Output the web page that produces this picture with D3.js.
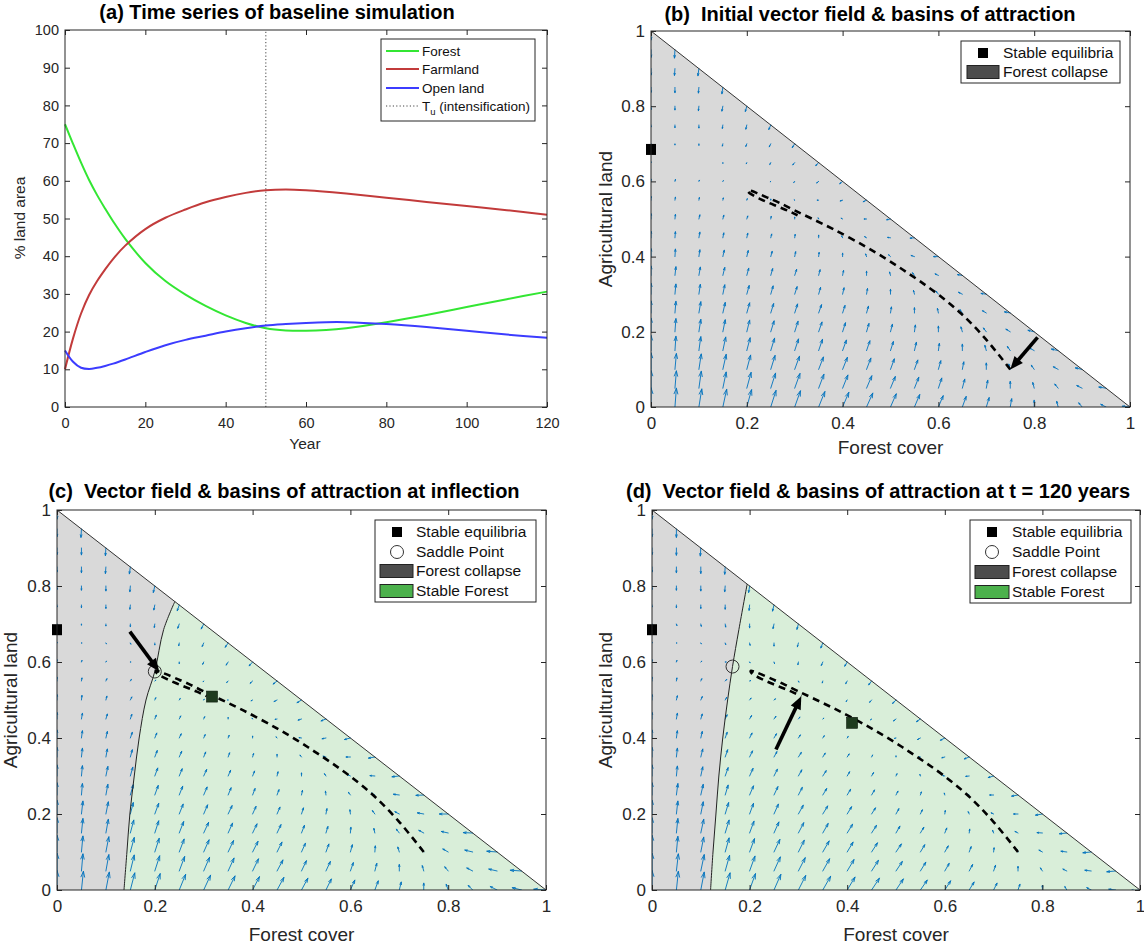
<!DOCTYPE html>
<html>
<head>
<meta charset="utf-8">
<script src="https://cdn.jsdelivr.net/npm/d3@7/dist/d3.min.js"></script>
<style>
  html, body { margin: 0; padding: 0; background: #fff; }
  svg text { font-family: "Liberation Sans", Arial, Helvetica, sans-serif; white-space: pre; }
</style>
</head>
<body>
<svg id="fig" width="1144" height="950"></svg>
<script>
// ---------- Panel (a): baseline simulation, % of land area ----------
const years    = [0, 2, 4, 6, 8, 10, 12, 15, 20, 25, 30, 35, 40, 45, 50, 55, 60, 65, 70, 80, 90, 100, 110, 120];
const forest   = [75, 69.8, 64.8, 60.2, 56.2, 52.6, 49.2, 44.6, 38.2, 33.4, 29.8, 26.8, 24.3, 22.3, 20.9, 20.3, 20.2, 20.4, 20.9, 22.5, 24.4, 26.5, 28.6, 30.6];
const farmland = [10, 18.2, 24.8, 29.7, 33.4, 36.5, 39.3, 42.8, 47.2, 50.2, 52.4, 54.3, 55.7, 56.8, 57.5, 57.7, 57.5, 57.1, 56.6, 55.5, 54.4, 53.3, 52.2, 51.0];
const openLand = [15, 12.0, 10.4, 10.1, 10.4, 10.9, 11.5, 12.6, 14.6, 16.4, 17.8, 18.9, 20.0, 20.9, 21.6, 22.0, 22.3, 22.5, 22.5, 22.0, 21.2, 20.2, 19.2, 18.4];
const intensificationYear = 50;

const yearTicks  = [0, 20, 40, 60, 80, 100, 120];
const shareTicks = [0, 10, 20, 30, 40, 50, 60, 70, 80, 90, 100];
const coverTicks = [0, 0.2, 0.4, 0.6, 0.8, 1];

// ---------- Phase planes: vector fields on a 0.05 grid ----------
// Row j holds y = 0.05*j, entry i holds x = 0.05*i (only x + y <= 1); values are thousandths.
const gridStep = 0.05;

const fieldInitialU = [
  [0,3,6,8,10,11,12,13,13,13,12,11,10,8,6,3,0,-3,-7,-11,-16],
  [0,3,5,7,9,10,11,11,11,11,10,9,7,5,3,0,-3,-7,-11,-15],
  [0,3,5,7,8,9,10,10,10,9,8,7,5,3,0,-3,-6,-10,-14],
  [0,2,4,6,7,8,8,8,8,7,6,4,2,0,-3,-6,-10,-14],
  [0,2,4,5,6,7,7,7,6,5,4,2,0,-3,-6,-9,-13],
  [0,2,4,5,6,6,6,6,5,4,2,0,-2,-5,-8,-12],
  [0,2,3,4,5,5,5,4,3,2,0,-2,-5,-8,-11],
  [0,2,3,4,4,4,4,3,2,0,-2,-4,-7,-10],
  [0,1,2,3,3,3,2,1,0,-2,-4,-7,-10],
  [0,1,2,2,2,2,1,0,-2,-4,-6,-9],
  [0,1,2,2,2,1,0,-1,-3,-5,-8],
  [0,1,1,1,1,0,-1,-3,-5,-7],
  [0,1,1,1,0,-1,-2,-4,-6],
  [0,0,0,0,-1,-2,-4,-6],
  [0,0,0,-1,-2,-3,-5],
  [0,0,0,-1,-2,-4],
  [0,0,-1,-2,-3],
  [0,0,-1,-2],
  [0,-1,-2],
  [0,-1],
  [0]
];
const fieldInitialV = [
  [51,50,48,47,46,44,43,41,39,37,35,33,30,28,25,22,18,15,11,7,2],
  [47,46,45,43,42,40,39,37,35,33,31,29,27,24,21,18,15,11,7,3],
  [44,42,41,40,38,37,35,33,32,30,28,25,23,20,17,14,11,7,4],
  [40,38,37,36,34,33,31,30,28,26,24,22,19,17,14,11,7,4],
  [36,35,33,32,31,29,28,26,24,22,20,18,15,13,10,7,4],
  [32,31,30,28,27,25,24,22,20,18,16,14,12,9,6,3],
  [29,27,26,25,23,22,20,18,17,15,13,10,8,5,2],
  [25,23,22,21,19,18,16,15,13,11,9,7,4,2],
  [21,20,18,17,16,14,13,11,9,7,5,3,0],
  [17,16,15,13,12,10,9,7,5,3,1,-1],
  [14,12,11,10,8,7,5,3,2,0,-2],
  [10,8,7,6,4,3,1,0,-2,-4],
  [6,5,3,2,1,-1,-3,-4,-6],
  [2,1,0,-2,-3,-5,-6,-8],
  [-2,-3,-4,-6,-7,-8,-10],
  [-5,-7,-8,-9,-11,-12],
  [-9,-10,-12,-13,-14],
  [-13,-14,-15,-17],
  [-17,-18,-19],
  [-20,-22],
  [-24]
];

const fieldInflectionU = [
  [0,4,7,9,11,13,14,14,14,14,13,11,9,7,4,0,-4,-9,-14,-19,-25],
  [0,3,6,8,10,11,12,12,12,12,10,9,6,4,0,-3,-7,-12,-17,-23],
  [0,3,6,8,9,10,11,11,11,10,8,6,4,1,-3,-6,-11,-16,-21],
  [0,3,5,7,8,9,10,9,9,8,6,4,1,-2,-6,-10,-14,-19],
  [0,3,5,6,8,8,8,8,7,6,4,2,-1,-5,-9,-13,-18],
  [0,2,4,6,7,7,7,6,5,4,2,-1,-4,-7,-12,-16],
  [0,2,4,5,6,6,6,5,4,2,0,-3,-6,-10,-15],
  [0,2,3,4,5,5,4,3,2,0,-3,-6,-9,-13],
  [0,2,3,4,4,4,3,2,0,-2,-5,-8,-12],
  [0,2,3,3,3,3,2,0,-1,-4,-7,-10],
  [0,1,2,3,2,2,1,-1,-3,-6,-9],
  [0,1,2,2,2,1,-1,-3,-5,-8],
  [0,1,1,1,1,0,-2,-4,-7],
  [0,1,1,1,0,-1,-3,-6],
  [0,0,0,0,-1,-3,-5],
  [0,0,0,-1,-2,-4],
  [0,0,0,-1,-3],
  [0,0,-1,-2],
  [0,0,-1],
  [0,-1],
  [0]
];
const fieldInflectionV = [
  [51,49,47,45,43,41,39,37,35,33,31,29,26,24,21,18,15,12,9,6,2],
  [47,45,43,42,40,38,36,34,32,29,27,25,22,20,17,14,11,8,5,2],
  [44,42,40,38,36,34,32,30,28,26,23,21,19,16,13,11,8,5,2],
  [40,38,36,34,32,30,28,26,24,22,20,17,15,12,10,7,4,1],
  [36,34,32,30,28,26,24,22,20,18,16,14,11,9,6,3,0],
  [32,30,28,27,25,23,21,19,17,14,12,10,7,5,2,-1],
  [29,27,25,23,21,19,17,15,13,11,8,6,4,1,-2],
  [25,23,21,19,17,15,13,11,9,7,5,2,0,-3],
  [21,19,17,15,13,11,9,7,5,3,1,-2,-4],
  [17,15,13,12,10,8,6,4,2,-1,-3,-5],
  [14,12,10,8,6,4,2,0,-2,-4,-7],
  [10,8,6,4,2,0,-2,-4,-6,-8],
  [6,4,2,0,-2,-4,-6,-8,-10],
  [2,0,-2,-3,-5,-7,-9,-11],
  [-2,-3,-5,-7,-9,-11,-13],
  [-5,-7,-9,-11,-13,-15],
  [-9,-11,-13,-15,-17],
  [-13,-15,-17,-18],
  [-17,-18,-20],
  [-20,-22],
  [-24]
];

const fieldFinalU = [
  [0,4,7,10,12,14,15,16,16,16,15,14,12,10,7,4,0,-4,-9,-14,-20],
  [0,4,7,9,11,13,14,14,14,14,13,11,9,7,4,0,-4,-8,-13,-18],
  [0,3,6,8,10,12,12,13,12,12,11,9,7,4,1,-3,-7,-12,-17],
  [0,3,6,8,9,10,11,11,11,10,8,7,4,1,-2,-6,-11,-15],
  [0,3,5,7,8,9,10,10,9,8,6,4,1,-2,-5,-9,-14],
  [0,3,5,6,8,8,8,8,7,6,4,2,-1,-4,-8,-13],
  [0,2,4,6,7,7,7,7,5,4,2,-1,-4,-7,-11],
  [0,2,4,5,6,6,6,5,4,2,0,-3,-6,-10],
  [0,2,3,4,5,5,4,3,2,0,-3,-6,-9],
  [0,2,3,4,4,4,3,2,0,-2,-5,-8],
  [0,2,3,3,3,3,2,0,-2,-4,-7],
  [0,1,2,3,2,2,1,-1,-3,-6],
  [0,1,2,2,1,1,-1,-3,-5],
  [0,1,1,1,1,0,-2,-4],
  [0,1,1,1,0,-2,-3],
  [0,0,0,0,-1,-3],
  [0,0,0,-1,-2],
  [0,0,0,-1],
  [0,0,-1],
  [0,0],
  [0]
];
const fieldFinalV = [
  [51,49,47,45,43,41,38,36,34,31,29,26,24,21,18,15,12,9,6,2,-2],
  [47,45,43,41,39,37,35,32,30,28,25,23,20,17,15,12,8,5,2,-2],
  [44,41,39,37,35,33,31,29,26,24,21,19,16,14,11,8,5,2,-2],
  [40,38,36,34,31,29,27,25,23,20,18,15,13,10,7,4,1,-2],
  [36,34,32,30,28,26,23,21,19,16,14,11,9,6,3,0,-3],
  [32,30,28,26,24,22,20,17,15,13,10,8,5,2,0,-3],
  [29,26,24,22,20,18,16,14,11,9,6,4,1,-1,-4],
  [25,23,21,19,16,14,12,10,8,5,3,0,-2,-5],
  [21,19,17,15,13,11,8,6,4,1,-1,-4,-6],
  [17,15,13,11,9,7,5,2,0,-2,-5,-7],
  [14,11,9,7,5,3,1,-1,-4,-6,-9],
  [10,8,6,4,1,-1,-3,-5,-7,-10],
  [6,4,2,0,-2,-4,-7,-9,-11],
  [2,0,-2,-4,-6,-8,-10,-13],
  [-2,-4,-6,-8,-10,-12,-14],
  [-5,-7,-9,-11,-14,-16],
  [-9,-11,-13,-15,-17],
  [-13,-15,-17,-19],
  [-17,-19,-21],
  [-20,-22],
  [-24]
];

// Equilibria (forest cover, agricultural land)
const collapseEquilibrium         = [0, 0.685];
const forestEquilibriumInflection = [0.317, 0.509];
const saddleInflection            = [0.2, 0.575];
const forestEquilibriumFinal      = [0.41, 0.44];
const saddleFinal                 = [0.165, 0.588];

// Basin boundaries (separatrix through the saddle)
const separatrixInflection = [[0.137,0],[0.143,0.1],[0.149,0.2],[0.158,0.3],[0.168,0.4],[0.182,0.5],[0.2,0.575],[0.218,0.685],[0.241,0.759]];
const separatrixFinal      = [[0.12,0],[0.125,0.1],[0.131,0.2],[0.137,0.3],[0.145,0.4],[0.155,0.5],[0.165,0.588],[0.178,0.685],[0.195,0.805]];

// ---------- drawing ----------
const FONT = '"Liberation Sans", Arial, Helvetica, sans-serif';
const INK = "#262626";
const QUIVER = "#0072BD";
const COLLAPSE_FILL = "#d9d9d9", FOREST_FILL = "#d9eed9";
const COLLAPSE_KEY = "#4d4d4d", FOREST_KEY = "#4cb14c";
const SERIES = [
  { name: "Forest",    values: forest,   color: "#33e633" },
  { name: "Farmland",  values: farmland, color: "#c23b3b" },
  { name: "Open land", values: openLand, color: "#3c3cff" }
];

const svg = d3.select("#fig");

function frame(g, x, y, xt, yt, fmt, fs, padBottom, padLeft) {
  const [l, r] = x.range(), [b, t] = y.range();
  const specs = [
    [d3.axisBottom(x).tickValues(xt), `translate(0,${b})`, true, padBottom],
    [d3.axisTop(x).tickValues(xt), `translate(0,${t})`, false, 0],
    [d3.axisLeft(y).tickValues(yt), `translate(${l},0)`, true, padLeft],
    [d3.axisRight(y).tickValues(yt), `translate(${r},0)`, false, 0]
  ];
  specs.forEach(([axis, tr, labels, pad]) => {
    const a = g.append("g").attr("transform", tr)
      .call(axis.tickSize(-5).tickSizeOuter(0).tickPadding(pad).tickFormat(labels ? fmt : ""));
    a.select(".domain").remove();
    a.attr("font-family", FONT).attr("font-size", fs);
    a.selectAll("line").attr("stroke", INK).attr("stroke-width", 1);
    a.selectAll("text").attr("fill", INK);
  });
  g.append("rect").attr("x", l).attr("y", t).attr("width", r - l).attr("height", b - t)
    .attr("fill", "none").attr("stroke", INK).attr("stroke-width", 1);
}

function legendBox(g, box, rows, fs) {
  g.append("rect").attr("x", box.x0).attr("y", box.y0)
    .attr("width", box.x1 - box.x0).attr("height", box.y1 - box.y0)
    .attr("fill", "#fff").attr("stroke", INK).attr("stroke-width", 1);
  rows.forEach(rw => {
    if (rw.kind === "line") {
      g.append("line").attr("x1", box.keyX0).attr("x2", box.keyX1).attr("y1", rw.y).attr("y2", rw.y)
        .attr("stroke", rw.color).attr("stroke-width", rw.width || 2)
        .attr("stroke-dasharray", rw.dash || null);
    } else if (rw.kind === "square") {
      g.append("rect").attr("x", box.markX - 5).attr("y", rw.y - 5).attr("width", 10).attr("height", 10)
        .attr("fill", "#000");
    } else if (rw.kind === "circle") {
      g.append("circle").attr("cx", box.markX).attr("cy", rw.y).attr("r", 6.5)
        .attr("fill", "none").attr("stroke", "#333").attr("stroke-width", 1);
    } else if (rw.kind === "patch") {
      g.append("rect").attr("x", box.keyX0).attr("y", rw.y - 6.5).attr("width", box.keyX1 - box.keyX0).attr("height", 13)
        .attr("fill", rw.color).attr("stroke", "#222").attr("stroke-width", 1);
    }
    const t = g.append("text").attr("x", rw.textX || box.textX).attr("y", rw.y).attr("dy", "0.35em")
      .attr("font-size", fs).attr("fill", "#111");
    if (rw.sub) {
      t.append("tspan").text(rw.label);
      t.append("tspan").attr("dy", 4).attr("font-size", fs * 0.7).text(rw.sub);
      t.append("tspan").attr("dy", -4).text(rw.after);
    } else {
      t.text(rw.label);
    }
  });
}

// ---------- Panel (a) ----------
(function () {
  const box = { l: 65, r: 547, t: 30, b: 407 };
  const g = svg.append("g");
  const x = d3.scaleLinear().domain([0, 120]).range([box.l, box.r]);
  const y = d3.scaleLinear().domain([0, 100]).range([box.b, box.t]);

  g.append("line").attr("x1", x(intensificationYear)).attr("x2", x(intensificationYear))
    .attr("y1", y(0)).attr("y2", y(100))
    .attr("stroke", "#444").attr("stroke-width", 1).attr("stroke-dasharray", "1.2 2.2");

  SERIES.forEach(s => {
    g.append("path")
      .attr("d", d3.line().x((d, i) => x(years[i])).y(d => y(d)).curve(d3.curveCatmullRom.alpha(0.5))(s.values))
      .attr("fill", "none").attr("stroke", s.color).attr("stroke-width", 2);
  });

  frame(g, x, y, yearTicks, shareTicks, d3.format("d"), 14.5, 10.5, 6);

  g.append("text").attr("x", 305).attr("y", 449).attr("text-anchor", "middle")
    .attr("font-size", 15.5).attr("fill", INK).text("Year");
  g.append("text").attr("transform", "translate(25,218) rotate(-90)").attr("text-anchor", "middle")
    .attr("font-size", 15.5).attr("fill", INK).text("% land area");
  g.append("text").attr("x", 277).attr("y", 19).attr("text-anchor", "middle")
    .attr("font-size", 20).attr("font-weight", "bold").attr("fill", "#000")
    .text("(a) Time series of baseline simulation");

  legendBox(g, { x0: 381, x1: 535, y0: 39, y1: 121, keyX0: 386, keyX1: 419, textX: 422 }, [
    { kind: "line", y: 51, color: SERIES[0].color, label: "Forest" },
    { kind: "line", y: 69, color: SERIES[1].color, label: "Farmland" },
    { kind: "line", y: 88, color: SERIES[2].color, label: "Open land" },
    { kind: "line", y: 106, color: "#444", width: 1, dash: "1.2 2.2", label: "T", sub: "u", after: " (intensification)" }
  ], 13.5);
})();

// ---------- Phase-plane panels ----------
function drawPhase(o) {
  const g = svg.append("g");
  const x = d3.scaleLinear().domain([0, 1]).range([o.box.l, o.box.r]);
  const y = d3.scaleLinear().domain([0, 1]).range([o.box.b, o.box.t]);
  const clipId = "clip-" + o.id;
  g.append("clipPath").attr("id", clipId).append("rect")
    .attr("x", o.box.l).attr("y", o.box.t).attr("width", o.box.r - o.box.l).attr("height", o.box.b - o.box.t);
  const inner = g.append("g").attr("clip-path", `url(#${clipId})`);

  // basins of attraction
  if (o.separatrix) {
    const sep = d3.line().x(d => x(d[0])).y(d => y(d[1])).curve(d3.curveCatmullRom)(o.separatrix);
    inner.append("path").attr("d", `M${x(0)},${y(0)}` + sep.replace(/^M/, "L") + `L${x(0)},${y(1)}Z`)
      .attr("fill", COLLAPSE_FILL);
    inner.append("path").attr("d", sep + `L${x(1)},${y(0)}Z`).attr("fill", FOREST_FILL);
    o.sepPath = sep;
  } else {
    inner.append("path").attr("d", `M${x(0)},${y(0)}L${x(1)},${y(0)}L${x(0)},${y(1)}Z`).attr("fill", COLLAPSE_FILL);
  }

  // vector field (quiver)
  let qd = "";
  const ha = 0.3, hb = 0.33;
  o.U.forEach((row, j) => row.forEach((u, i) => {
    const v = o.V[j][i];
    const x0 = i * gridStep, y0 = j * gridStep;
    const X0 = x(x0), Y0 = y(y0), X1 = x(x0 + u / 1000), Y1 = y(y0 + v / 1000);
    const dx = X1 - X0, dy = Y1 - Y0;
    if (Math.hypot(dx, dy) < 0.4) return;
    qd += `M${X0.toFixed(2)},${Y0.toFixed(2)}L${X1.toFixed(2)},${Y1.toFixed(2)}`;
    const h1x = X1 - ha * (dx + hb * dy), h1y = Y1 - ha * (dy - hb * dx);
    const h2x = X1 - ha * (dx - hb * dy), h2y = Y1 - ha * (dy + hb * dx);
    qd += `M${h1x.toFixed(2)},${h1y.toFixed(2)}L${X1.toFixed(2)},${Y1.toFixed(2)}L${h2x.toFixed(2)},${h2y.toFixed(2)}`;
  }));
  inner.append("path").attr("d", qd).attr("fill", "none").attr("stroke", QUIVER)
    .attr("stroke-width", 0.9).attr("stroke-linecap", "round").attr("stroke-linejoin", "round");

  // simplex edge and separatrix
  inner.append("line").attr("x1", x(0)).attr("y1", y(1)).attr("x2", x(1)).attr("y2", y(0))
    .attr("stroke", "#333").attr("stroke-width", 1);
  if (o.sepPath) {
    inner.append("path").attr("d", o.sepPath).attr("fill", "none").attr("stroke", "#222").attr("stroke-width", 1);
  }

  // simulated trajectory (forest cover vs agricultural land)
  const traj = forest.map((f, i) => [f / 100, farmland[i] / 100]);
  inner.append("path")
    .attr("d", d3.line().x(d => x(d[0])).y(d => y(d[1])).curve(d3.curveCatmullRom)(traj))
    .attr("fill", "none").attr("stroke", "#000").attr("stroke-width", 2.6).attr("stroke-dasharray", "7 5");

  // equilibria
  g.append("rect").attr("x", x(collapseEquilibrium[0]) - 5).attr("y", y(collapseEquilibrium[1]) - 5.5)
    .attr("width", 10).attr("height", 11).attr("fill", "#000");
  if (o.forestEq) {
    g.append("rect").attr("x", x(o.forestEq[0]) - 5.5).attr("y", y(o.forestEq[1]) - 5.5)
      .attr("width", 11).attr("height", 11).attr("fill", "#1e3a1e").attr("stroke", "#0d1a0d").attr("stroke-width", 0.6);
  }
  if (o.saddle) {
    g.append("circle").attr("cx", x(o.saddle[0])).attr("cy", y(o.saddle[1])).attr("r", 6.5)
      .attr("fill", "none").attr("stroke", "#333").attr("stroke-width", 1);
  }

  // pointer to the state at the given year
  const k = years.indexOf(o.pointer.year);
  const tip = [x(forest[k] / 100), y(farmland[k] / 100)];
  const tail = [x(forest[k] / 100 + o.pointer.dx), y(farmland[k] / 100 + o.pointer.dy)];
  const len = Math.hypot(tip[0] - tail[0], tip[1] - tail[1]);
  const ux = (tip[0] - tail[0]) / len, uy = (tip[1] - tail[1]) / len;
  const hl = 13, hw = 5.5;
  const base = [tip[0] - ux * hl, tip[1] - uy * hl];
  g.append("line").attr("x1", tail[0]).attr("y1", tail[1]).attr("x2", base[0] + ux * 2).attr("y2", base[1] + uy * 2)
    .attr("stroke", "#000").attr("stroke-width", 3.6);
  g.append("path").attr("d", `M${tip[0]},${tip[1]}L${base[0] - uy * hw},${base[1] + ux * hw}L${base[0] + uy * hw},${base[1] - ux * hw}Z`)
    .attr("fill", "#000");

  frame(g, x, y, coverTicks, coverTicks, d => String(+d.toFixed(1)), 17, 10, 6);

  g.append("text").attr("x", (o.box.l + o.box.r) / 2).attr("y", o.xlabelY).attr("text-anchor", "middle")
    .attr("font-size", 19).attr("fill", INK).text("Forest cover");
  g.append("text").attr("transform", `translate(${o.ylabelX},${(o.box.t + o.box.b) / 2}) rotate(-90)`)
    .attr("text-anchor", "middle").attr("font-size", 19).attr("fill", INK).text("Agricultural land");
  g.append("text").attr("x", o.titleX).attr("y", o.titleY).attr("text-anchor", "middle")
    .attr("font-size", 20).attr("font-weight", "bold").attr("fill", "#000").text(o.title);

  legendBox(g, o.legend.box, o.legend.rows, 15.5);
}

drawPhase({
  id: "b", box: { l: 651, r: 1130, t: 31, b: 407 },
  U: fieldInitialU, V: fieldInitialV, separatrix: null,
  pointer: { year: 0, dx: 0.057, dy: 0.085 },
  title: "(b)  Initial vector field & basins of attraction", titleX: 870, titleY: 21,
  xlabelY: 454, ylabelX: 612,
  legend: {
    box: { x0: 961, x1: 1120, y0: 41, y1: 83, markX: 983, keyX0: 967, keyX1: 999, textX: 1003 },
    rows: [
      { kind: "square", y: 53, label: "Stable equilibria", textX: 1003 },
      { kind: "patch", y: 72, color: COLLAPSE_KEY, label: "Forest collapse" }
    ]
  }
});

drawPhase({
  id: "c", box: { l: 57, r: 546, t: 510, b: 890 },
  U: fieldInflectionU, V: fieldInflectionV, separatrix: separatrixInflection,
  forestEq: forestEquilibriumInflection, saddle: saddleInflection,
  pointer: { year: 50, dx: -0.06, dy: 0.105 },
  title: "(c)  Vector field & basins of attraction at inflection", titleX: 284, titleY: 498,
  xlabelY: 941, ylabelX: 17,
  legend: {
    box: { x0: 375, x1: 536, y0: 520, y1: 602, markX: 397, keyX0: 380, keyX1: 413, textX: 416 },
    rows: [
      { kind: "square", y: 532, label: "Stable equilibria", textX: 416 },
      { kind: "circle", y: 552, label: "Saddle Point", textX: 416 },
      { kind: "patch", y: 571, color: COLLAPSE_KEY, label: "Forest collapse" },
      { kind: "patch", y: 591, color: FOREST_KEY, label: "Stable Forest" }
    ]
  }
});

drawPhase({
  id: "d", box: { l: 652, r: 1140, t: 510, b: 890 },
  U: fieldFinalU, V: fieldFinalV, separatrix: separatrixFinal,
  forestEq: forestEquilibriumFinal, saddle: saddleFinal,
  pointer: { year: 120, dx: -0.052, dy: -0.14 },
  title: "(d)  Vector field & basins of attraction at t = 120 years", titleX: 878, titleY: 498,
  xlabelY: 941, ylabelX: 612,
  legend: {
    box: { x0: 970, x1: 1131, y0: 520, y1: 603, markX: 992, keyX0: 975, keyX1: 1009, textX: 1012 },
    rows: [
      { kind: "square", y: 532, label: "Stable equilibria", textX: 1012 },
      { kind: "circle", y: 552, label: "Saddle Point", textX: 1012 },
      { kind: "patch", y: 572, color: COLLAPSE_KEY, label: "Forest collapse" },
      { kind: "patch", y: 592, color: FOREST_KEY, label: "Stable Forest" }
    ]
  }
});
</script>
</body>
</html>
